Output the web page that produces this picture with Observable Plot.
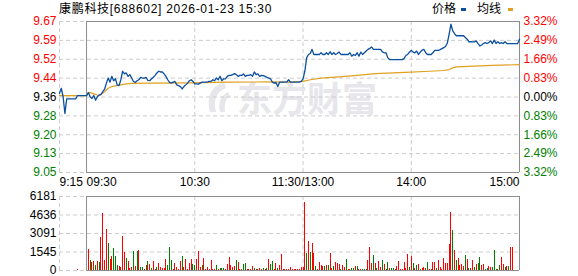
<!DOCTYPE html>
<html>
<head>
<meta charset="utf-8">
<script src="https://cdn.jsdelivr.net/npm/d3@7"></script>
<script src="https://cdn.jsdelivr.net/npm/@observablehq/plot@0.6"></script>
<style>
  html, body { margin: 0; padding: 0; background: #fff; }
  #wrap { position: relative; width: 578px; height: 276px; overflow: hidden;
          font-family: "Liberation Sans", "Noto Sans CJK SC", sans-serif; font-size: 12px; color: #000; }
  #title { position: absolute; left: 59px; top: 2px; line-height: 14px; letter-spacing: 0.7px; white-space: nowrap; z-index: 3; }
  .lg { position: absolute; top: 2px; line-height: 14px; white-space: nowrap; z-index: 3; }
  .sw { position: absolute; top: 8px; width: 5px; height: 3px; z-index: 3; }
  #wm { position: absolute; left: 237px; top: 79px; font-family: "Noto Sans CJK SC", sans-serif; font-weight: 700;
        font-size: 35px; line-height: 35px; color: #e6e6eb; z-index: 0; white-space: nowrap; }
  #logo { position: absolute; left: 204px; top: 80px; width: 26px; height: 34px; z-index: 0; }
  #main { position: absolute; left: 0; top: 0; z-index: 1; }
  #vol { position: absolute; left: 0; top: 186px; z-index: 1; }
  svg { overflow: visible; }
</style>
</head>
<body>
<div id="wrap">
  <svg id="logo" viewBox="0 0 26 34"><path d="M20 2 C 8 6, 2 16, 6 32 L 12 32 C 9 20, 12 12, 22 8 Z M24 12 C 16 16, 14 24, 16 32 L 21 32 C 20 24, 22 18, 26 16 Z" fill="#e6e6eb"/></svg>
  <div id="wm"></div>
  <div id="main"></div>
  <div id="vol"></div>
  <div id="title"></div>
  <div class="lg" id="lg1" style="left:432px"></div>
  <div class="sw" style="left:461px;background:#0a4fa0"></div>
  <div class="lg" id="lg2" style="left:477px"></div>
  <div class="sw" style="left:508px;background:#e0a020"></div>
</div>
<script>
// ---------- data ----------
const stockName = "康鹏科技";
const stockCode = "688602";
const stamp = "2026-01-23 15:30";
const legendNames = ["价格", "均线"];
const watermark = "东方财富";

const prevClose = 9.36;
const pctTicks = [3.32, 2.49, 1.66, 0.83, 0, -0.83, -1.66, -2.49, -3.32];
const priceTickLabels = ["9.67", "9.59", "9.52", "9.44", "9.36", "9.28", "9.20", "9.13", "9.05"];
const pctTickLabels = ["3.32%", "2.49%", "1.66%", "0.83%", "0.00%", "0.83%", "1.66%", "2.49%", "3.32%"];

// minutes from 09:30 (trading minutes; 13:00 == 11:30 == 120)
const timeTicks = [-15, 0, 60, 120, 180, 240];
const timeTickLabels = ["9:15", "09:30", "10:30", "11:30/13:00", "14:00", "15:00"];
const gridTimes = [-15, 60, 120, 180];

// call auction 9:15 - 9:25
const preTimes = [-15, -14, -13, -12, -11, -10, -9, -8, -7, -6, -5];
const prePrices = [9.375, 9.396, 9.361, 9.292, 9.352, 9.352, 9.352, 9.352, 9.352, 9.352, 9.366];

// 09:30 .. 11:30
const amPrices = [
  9.366, 9.378, 9.361, 9.354, 9.366, 9.347, 9.361, 9.368, 9.371, 9.382,
  9.392, 9.417, 9.438, 9.421, 9.445, 9.427, 9.435, 9.410, 9.407, 9.431,
  9.466, 9.455, 9.459, 9.445, 9.452, 9.438, 9.424, 9.420, 9.427, 9.431,
  9.441, 9.438, 9.438, 9.441, 9.428, 9.427, 9.435, 9.441, 9.449, 9.459,
  9.466, 9.463, 9.463, 9.455, 9.445, 9.431, 9.420, 9.417, 9.421, 9.424,
  9.410, 9.407, 9.403, 9.393, 9.403, 9.410, 9.417, 9.427, 9.431, 9.424,
  9.414, 9.414, 9.413, 9.417, 9.421, 9.421, 9.421, 9.421, 9.424, 9.424,
  9.431, 9.427, 9.438, 9.431, 9.445, 9.427, 9.435, 9.435, 9.445, 9.449,
  9.449, 9.452, 9.456, 9.452, 9.445, 9.449, 9.449, 9.455, 9.445, 9.449,
  9.449, 9.452, 9.445, 9.463, 9.452, 9.455, 9.445, 9.449, 9.448, 9.445,
  9.441, 9.438, 9.435, 9.421, 9.417, 9.420, 9.403, 9.421, 9.421, 9.421,
  9.421, 9.421, 9.431, 9.421, 9.421, 9.421, 9.421, 9.421, 9.421, 9.424,
  9.435
];
// 13:01 .. 15:00
const pmPrices = [
  9.466, 9.521, 9.535, 9.539, 9.556, 9.535, 9.535, 9.535, 9.535, 9.542,
  9.535, 9.535, 9.542, 9.535, 9.546, 9.535, 9.542, 9.535, 9.539, 9.545,
  9.535, 9.535, 9.535, 9.535, 9.535, 9.542, 9.528, 9.535, 9.531, 9.542,
  9.528, 9.545, 9.535, 9.542, 9.549, 9.556, 9.560, 9.566, 9.556, 9.556,
  9.556, 9.556, 9.556, 9.546, 9.542, 9.542, 9.521, 9.514, 9.514, 9.514,
  9.514, 9.514, 9.514, 9.514, 9.514, 9.518, 9.531, 9.535, 9.545, 9.552,
  9.545, 9.542, 9.549, 9.535, 9.545, 9.553, 9.556, 9.542, 9.535, 9.535,
  9.535, 9.542, 9.552, 9.552, 9.552, 9.555, 9.559, 9.563, 9.568, 9.582,
  9.619, 9.660, 9.632, 9.621, 9.612, 9.612, 9.612, 9.612, 9.612, 9.605,
  9.598, 9.587, 9.588, 9.587, 9.587, 9.591, 9.580, 9.570, 9.574, 9.580,
  9.584, 9.580, 9.584, 9.591, 9.580, 9.594, 9.580, 9.588, 9.580, 9.584,
  9.580, 9.588, 9.580, 9.580, 9.580, 9.580, 9.580, 9.580, 9.580, 9.598
];

// average price line
const avgTimes = [-15, 0, 1, 2, 4, 6, 7, 9, 10, 11, 12, 14, 16, 19, 22, 25, 36, 57, 79, 100, 113, 120,
  124, 130, 140, 150, 160, 170, 180, 190, 198, 201, 203, 205, 215, 225, 240];
const avgPrices = [9.366, 9.366, 9.378, 9.378, 9.373, 9.368, 9.366, 9.375, 9.382, 9.389, 9.396, 9.403, 9.406,
  9.410, 9.414, 9.416, 9.417, 9.418, 9.421, 9.422, 9.421, 9.424,
  9.431, 9.438, 9.443, 9.449, 9.456, 9.459, 9.462, 9.466, 9.469, 9.473, 9.480, 9.484, 9.487, 9.490, 9.493];

// volume (lots)
const volTicks = [0, 1545, 3091, 4636, 6181];
const preVolume = 120;
const amVolumes = [
  1750, 835, 670, 780, 445, 750, 670, 2780, 4760, 860,
  3450, 2250, 950, 1170, 1840, 1200, 420, 330, 250, 2840,
  1500, 1000, 750, 170, 250, 1590, 330, 1590, 1640, 250,
  250, 110, 420, 750, 500, 170, 750, 110, 220, 580,
  250, 170, 200, 920, 420, 1950, 835, 80, 580, 250,
  110, 750, 1170, 250, 920, 110, 580, 920, 500, 445,
  920, 1590, 250, 420, 1000, 110, 250, 110, 835, 80,
  80, 420, 110, 170, 170, 170, 110, 500, 1090, 420,
  250, 330, 835, 670, 80, 80, 500, 580, 80, 80,
  80, 330, 170, 80, 80, 170, 80, 170, 80, 170,
  920, 500, 750, 80, 580, 170, 420, 1340, 80, 80,
  80, 80, 250, 80, 80, 80, 80, 80, 250, 250
];
const amUp = [
  1, 0, 1, 1, 0, 1, 0, 1, 1, 1,
  1, 0, 1, 1, 0, 0, 0, 1, 1, 1,
  1, 0, 1, 1, 1, 0, 1, 0, 1, 0,
  0, 1, 1, 0, 1, 0, 1, 1, 0, 1,
  1, 1, 1, 1, 0, 0, 0, 1, 1, 1,
  1, 1, 0, 1, 1, 1, 1, 1, 0, 0,
  1, 1, 1, 0, 1, 1, 1, 1, 1, 1,
  1, 0, 1, 0, 0, 0, 1, 1, 1, 1,
  1, 1, 0, 1, 1, 1, 0, 0, 1, 1,
  1, 1, 0, 0, 1, 1, 1, 0, 1, 0,
  1, 0, 0, 1, 1, 0, 1, 1, 1, 1,
  1, 1, 1, 1, 1, 1, 1, 1, 1, 1
];
const pmVolumes = [
  5680, 1420, 2420, 1500, 2250, 1420, 330, 80, 670, 420,
  330, 330, 420, 420, 1420, 170, 330, 670, 580, 500,
  80, 420, 250, 920, 80, 80, 170, 170, 330, 330,
  80, 80, 80, 80, 80, 835, 1920, 580, 1250, 580,
  170, 750, 250, 835, 500, 80, 670, 170, 170, 170,
  80, 330, 750, 80, 80, 670, 170, 1340, 250, 1170,
  580, 170, 420, 500, 80, 170, 250, 170, 670, 80,
  80, 670, 670, 170, 835, 250, 80, 1000, 580, 580,
  2170, 4840, 3340, 1670, 835, 1000, 420, 500, 330, 1250,
  920, 170, 170, 835, 250, 500, 580, 1090, 420, 500,
  80, 170, 330, 250, 250, 1670, 80, 80, 420, 1090,
  500, 250, 330, 330, 1920, 1920, 0, 0, 0, 1500
];
const pmUp = [
  1, 0, 1, 0, 1, 1, 0, 1, 1, 1,
  1, 0, 1, 0, 1, 1, 0, 1, 1, 1,
  0, 1, 1, 0, 1, 1, 0, 0, 1, 0,
  1, 1, 0, 0, 0, 1, 1, 1, 0, 1,
  0, 1, 1, 0, 1, 0, 0, 1, 0, 0,
  1, 1, 1, 1, 1, 1, 1, 1, 0, 1,
  0, 1, 0, 1, 0, 1, 1, 1, 0, 1,
  1, 1, 1, 0, 1, 1, 1, 1, 1, 1,
  1, 1, 0, 1, 0, 1, 1, 1, 1, 0,
  1, 0, 1, 1, 0, 1, 0, 0, 1, 1,
  0, 0, 1, 1, 0, 0, 0, 1, 0, 1,
  1, 0, 1, 0, 1, 1, 1, 1, 1, 1
];

// ---------- build ----------
const RED = "#ff0000", GREEN = "#008000", BLACK = "#000000";
const GRID = "#cccccc", BOX = "#8c8c8c";
const FONT = "'Liberation Sans', 'Noto Sans CJK SC', sans-serif";

document.getElementById("title").textContent = `${stockName}[${stockCode}] ${stamp}`;
document.getElementById("lg1").textContent = legendNames[0];
document.getElementById("lg2").textContent = legendNames[1];
document.getElementById("wm").textContent = watermark;

const yMin = prevClose * (1 + d3.min(pctTicks) / 100);
const yMax = prevClose * (1 + d3.max(pctTicks) / 100);
const yTicks = pctTicks.map((p, i) => ({ v: prevClose * (1 + p / 100), p, left: priceTickLabels[i], right: pctTickLabels[i] }));
const tone = p => p > 0 ? RED : p < 0 ? GREEN : BLACK;

const priceData = preTimes.map((t, i) => ({ t, p: prePrices[i] }))
  .concat(amPrices.map((p, i) => ({ t: i, p })))
  .concat(pmPrices.map((p, i) => ({ t: 121 + i, p })));
const avgData = avgTimes.map((t, i) => ({ t, p: avgPrices[i] }));
const xLabels = timeTicks.map((t, i) => ({ t, label: timeTickLabels[i], i }));
const n = xLabels.length;

const common = {
  width: 578,
  marginLeft: 59, marginRight: 59,
  x: { domain: [d3.min(timeTicks), d3.max(timeTicks)], axis: null },
  style: { fontFamily: FONT, fontSize: "12px", background: "transparent", overflow: "visible", color: "#000" }
};

const main = Plot.plot({
  ...common,
  height: 190, marginTop: 21, marginBottom: 18,
  y: { domain: [yMin, yMax], axis: null },
  marks: [
    Plot.ruleY(yTicks, { y: "v", x1: -15, x2: 240, stroke: GRID, strokeDasharray: "4,3" }),
    Plot.ruleX(gridTimes, { x: d => d, y1: yMin, y2: yMax, stroke: GRID, strokeDasharray: "4,3" }),
    Plot.ruleX([0, 240], { x: d => d, y1: yMin, y2: yMax, stroke: BOX }),
    Plot.ruleY([yMin, yMax], { y: d => d, x1: 0, x2: 240, stroke: BOX }),
    Plot.line(avgData, { x: "t", y: "p", stroke: "#e0a020", strokeWidth: 1.2 }),
    Plot.line(priceData, { x: "t", y: "p", stroke: "#0a4fa0", strokeWidth: 1.3 }),
    Plot.text(yTicks, { x: () => -15, y: "v", text: "left", textAnchor: "end", dx: -3, fill: d => tone(d.p) }),
    Plot.text(yTicks, { x: () => 240, y: "v", text: "right", textAnchor: "start", dx: 4, fill: d => tone(d.p) }),
    Plot.text(xLabels.filter(d => d.i < 2), { x: "t", y: () => yMin, text: "label", textAnchor: "start", dy: 10, fill: BLACK }),
    Plot.text(xLabels.filter(d => d.i >= 2 && d.i < n - 1), { x: "t", y: () => yMin, text: "label", textAnchor: "middle", dy: 10, fill: BLACK }),
    Plot.text(xLabels.filter(d => d.i === n - 1), { x: "t", y: () => yMin, text: "label", textAnchor: "end", dy: 10, fill: BLACK })
  ]
});
document.getElementById("main").appendChild(main);

const volData = [{ t: -5, v: preVolume, up: 1 }]
  .concat(amVolumes.map((v, i) => ({ t: i + 1, v, up: amUp[i] })))
  .concat(pmVolumes.map((v, i) => ({ t: 121 + i, v, up: pmUp[i] })))
  .filter(d => d.v > 0);
const vMax = d3.max(volTicks);

const vol = Plot.plot({
  ...common,
  height: 90, marginTop: 10, marginBottom: 6,
  y: { domain: [0, vMax], axis: null },
  marks: [
    Plot.ruleY(volTicks, { y: d => d, x1: -15, x2: 240, stroke: GRID, strokeDasharray: "4,3" }),
    Plot.ruleX(gridTimes, { x: d => d, y1: 0, y2: vMax, stroke: GRID, strokeDasharray: "4,3" }),
    Plot.ruleX(volData, { x: "t", y1: 0, y2: "v", stroke: d => d.up ? RED : GREEN, strokeWidth: 1, shapeRendering: "crispEdges" }),
    Plot.ruleX([0, 240], { x: d => d, y1: 0, y2: vMax, stroke: BOX }),
    Plot.ruleY([0, vMax], { y: d => d, x1: 0, x2: 240, stroke: BOX }),
    Plot.text(volTicks, { x: () => -15, y: d => d, text: d => String(d), textAnchor: "end", dx: -3, fill: BLACK })
  ]
});
document.getElementById("vol").appendChild(vol);
</script>
</body>
</html>
